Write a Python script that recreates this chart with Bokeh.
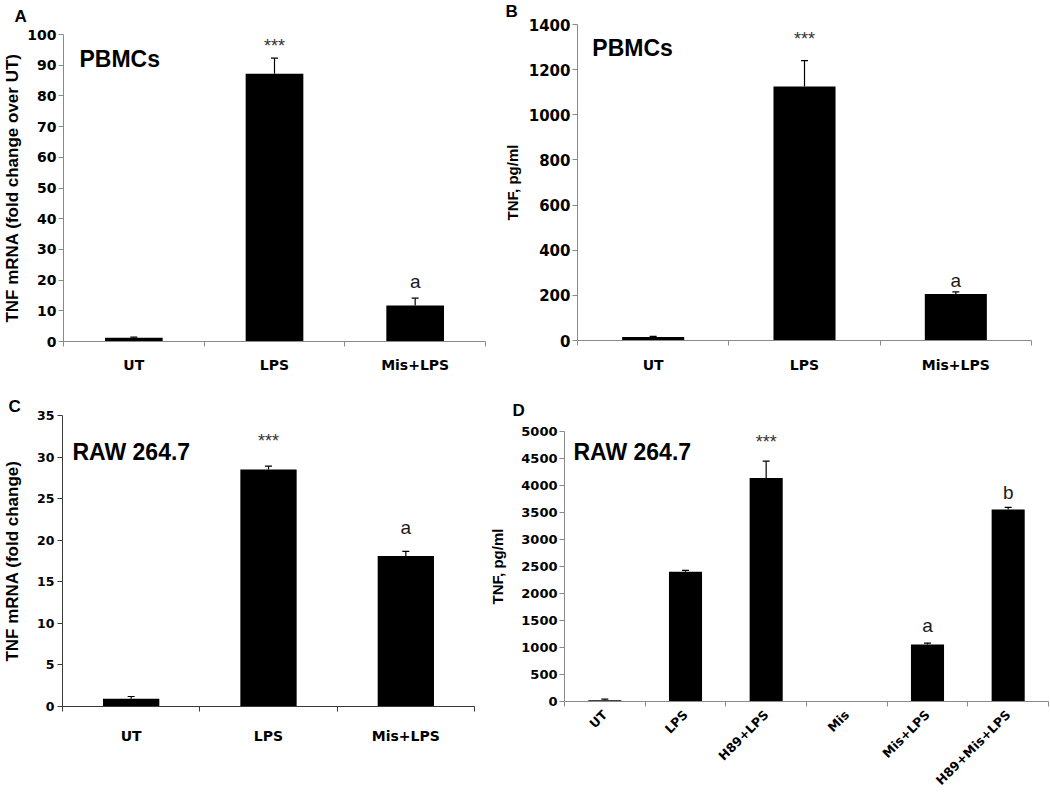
import math
from bokeh.plotting import figure
from bokeh.models import (Range1d, FixedTicker, SingleIntervalTicker, ColumnDataSource,
                          Whisker, TeeHead, Label, CustomJSTickFormatter)
from bokeh.layouts import row, column
from bokeh.embed import file_html
from bokeh.resources import INLINE

# ---------------- data ----------------
a_groups = ["UT", "LPS", "Mis+LPS"]
a_mean = [1.2, 87.2, 11.7]
a_err = [0.2, 5.1, 2.4]
a_sig = ["", "***", "a"]

b_groups = ["UT", "LPS", "Mis+LPS"]
b_mean = [15, 1125, 206]
b_err = [3, 115, 9]
b_sig = ["", "***", "a"]

c_groups = ["UT", "LPS", "Mis+LPS"]
c_mean = [0.92, 28.5, 18.1]
c_err = [0.28, 0.4, 0.55]
c_sig = ["", "***", "a"]

d_groups = ["UT", "LPS", "H89+LPS", "Mis", "Mis+LPS", "H89+Mis+LPS"]
d_mean = [24, 2402, 4138, 0, 1057, 3557]
d_err = [19, 25, 312, 0, 25, 37]
d_sig = ["", "", "***", "", "a", "b"]

# ---------------- styling ----------------
TXT = "Liberation Sans"
TICK = "DejaVu Sans"


def make_panel(groups, mean, err, sig, ymax, ystep, ytitle, cell, tag,
               w, h, borders, axis_color, ytick_size, xtick_size, ytitle_size,
               x_standoff, ylab_standoff, ytitle_standoff, sig_gap,
               cell_pos, tag_offset, tag_standoff, tag_valign="bottom", rotate=False):
    bl, br, bt, bb = borders
    n = len(groups)
    fw = w - bl - br
    fh = h - bt - bb
    ppx = fw / n
    ppy = fh / ymax

    p = figure(width=w, height=h, x_range=Range1d(0, n), y_range=Range1d(0, ymax),
               output_backend="svg", toolbar_location=None, tools="",
               min_border_left=bl, min_border_right=br,
               min_border_top=bt, min_border_bottom=bb)
    p.outline_line_color = None
    p.xgrid.visible = False
    p.ygrid.visible = False
    p.background_fill_color = "white"
    p.border_fill_color = "white"

    # panel letter as the plot title
    p.title.text = tag
    p.title.align = "left"
    p.title.vertical_align = tag_valign
    p.title.offset = tag_offset
    p.title.standoff = tag_standoff
    p.title.text_font = TXT
    p.title.text_font_style = "bold"
    p.title.text_font_size = "17px"
    p.title.text_color = "black"

    xs = [i + 0.5 for i in range(n)]
    p.vbar(x=xs, top=mean, bottom=0, width=0.41, fill_color="black", line_color=None)

    keep = [i for i in range(n) if err[i] > 0]
    src = ColumnDataSource(dict(x=[xs[i] for i in keep],
                                lo=[mean[i] for i in keep],
                                hi=[mean[i] + err[i] for i in keep]))
    wh = Whisker(source=src, base="x", lower="lo", upper="hi", dimension="height",
                 line_color="black", line_width=1.2,
                 upper_head=TeeHead(size=7, line_color="black", line_width=1.2),
                 lower_head=None)
    p.add_layout(wh)

    # significance marks
    for i in range(n):
        if not sig[i]:
            continue
        star = sig[i] == "***"
        p.add_layout(Label(x=xs[i], y=mean[i] + err[i] + sig_gap[i] / ppy, text=sig[i],
                           text_align="center", text_baseline="alphabetic",
                           text_font=TXT, text_font_size="18px" if star else "19px",
                           text_color="#333333" if star else "#1a1a1a"))

    # cell-line label inside the plot
    p.add_layout(Label(x=cell_pos[0] / ppx, y=ymax - cell_pos[1] / ppy, text=cell,
                       text_align="left", text_baseline="alphabetic",
                       text_font=TXT, text_font_style="bold", text_font_size="23px",
                       text_color="black"))

    # x axis: labels at category centres, tick marks between categories
    xa = p.xaxis[0]
    xa.ticker = FixedTicker(ticks=xs, minor_ticks=list(range(n + 1)))
    xa.formatter = CustomJSTickFormatter(
        args=dict(labels=groups),
        code="const i = Math.floor(tick); return (i >= 0 && i < labels.length) ? labels[i] : '';")
    xa.major_tick_out = 0
    xa.major_tick_in = 0
    xa.minor_tick_out = 5
    xa.minor_tick_in = 0
    xa.minor_tick_line_color = axis_color
    xa.axis_line_color = axis_color
    xa.major_label_text_font = TICK
    xa.major_label_text_font_style = "bold"
    xa.major_label_text_font_size = xtick_size
    xa.major_label_text_color = "black"
    xa.major_label_standoff = x_standoff
    if rotate:
        xa.major_label_orientation = math.pi / 4

    ya = p.yaxis[0]
    ya.ticker = SingleIntervalTicker(interval=ystep, num_minor_ticks=0)
    ya.major_tick_out = 5
    ya.major_tick_in = 0
    ya.minor_tick_line_color = None
    ya.major_tick_line_color = axis_color
    ya.axis_line_color = axis_color
    ya.major_label_text_font = TICK
    ya.major_label_text_font_style = "bold"
    ya.major_label_text_font_size = ytick_size
    ya.major_label_text_color = "black"
    ya.major_label_standoff = ylab_standoff
    ya.axis_label = ytitle
    ya.axis_label_text_font = TXT
    ya.axis_label_text_font_style = "bold"
    ya.axis_label_text_font_size = ytitle_size
    ya.axis_label_text_color = "black"
    ya.axis_label_standoff = ytitle_standoff
    return p


GRAY = "#8a8a8a"

pA = make_panel(a_groups, a_mean, a_err, a_sig, 100, 10,
                "TNF mRNA (fold change over UT)", "PBMCs", "A",
                w=500, h=375, borders=(61, 15, 33, 33), axis_color=GRAY,
                ytick_size="14px", xtick_size="14px", ytitle_size="17px",
                x_standoff=10, ylab_standoff=2, ytitle_standoff=2,
                sig_gap=[0, 12, 17], cell_pos=(16, 25), tag_offset=-49, tag_standoff=13,
                tag_valign="top")

pB = make_panel(b_groups, b_mean, b_err, b_sig, 1400, 200,
                "TNF, pg/ml", "PBMCs", "B",
                w=550, h=375, borders=(72, 19, 23, 33), axis_color=GRAY,
                ytick_size="15px", xtick_size="14px", ytitle_size="15px",
                x_standoff=11, ylab_standoff=2, ytitle_standoff=5,
                sig_gap=[0, 22, 12], cell_pos=(15, 24), tag_offset=-72, tag_standoff=3,
                tag_valign="top")

pC = make_panel(c_groups, c_mean, c_err, c_sig, 35, 5,
                "TNF mRNA (fold change)", "RAW 264.7", "C",
                w=486, h=422, borders=(62, 12, 40, 91), axis_color="#3a3a3a",
                ytick_size="12.5px", xtick_size="14px", ytitle_size="17px",
                x_standoff=16, ylab_standoff=3, ytitle_standoff=12,
                sig_gap=[0, 25, 24], cell_pos=(10, 36), tag_offset=-54, tag_standoff=0)

pD = make_panel(d_groups, d_mean, d_err, d_sig, 5000, 500,
                "TNF, pg/ml", "RAW 264.7", "D",
                w=564, h=422, borders=(76, 2, 56, 96), axis_color=GRAY,
                ytick_size="13px", xtick_size="12.5px", ytitle_size="15px",
                x_standoff=6, ylab_standoff=2, ytitle_standoff=12,
                sig_gap=[0, 0, 19, 0, 18, 15], cell_pos=(9, 20), tag_offset=-52, tag_standoff=24,
                rotate=True)

layout = column(row(column(pA), column(pB)), row(column(pC), column(pD)))
open("out.html", "w").write(file_html(layout, INLINE))
